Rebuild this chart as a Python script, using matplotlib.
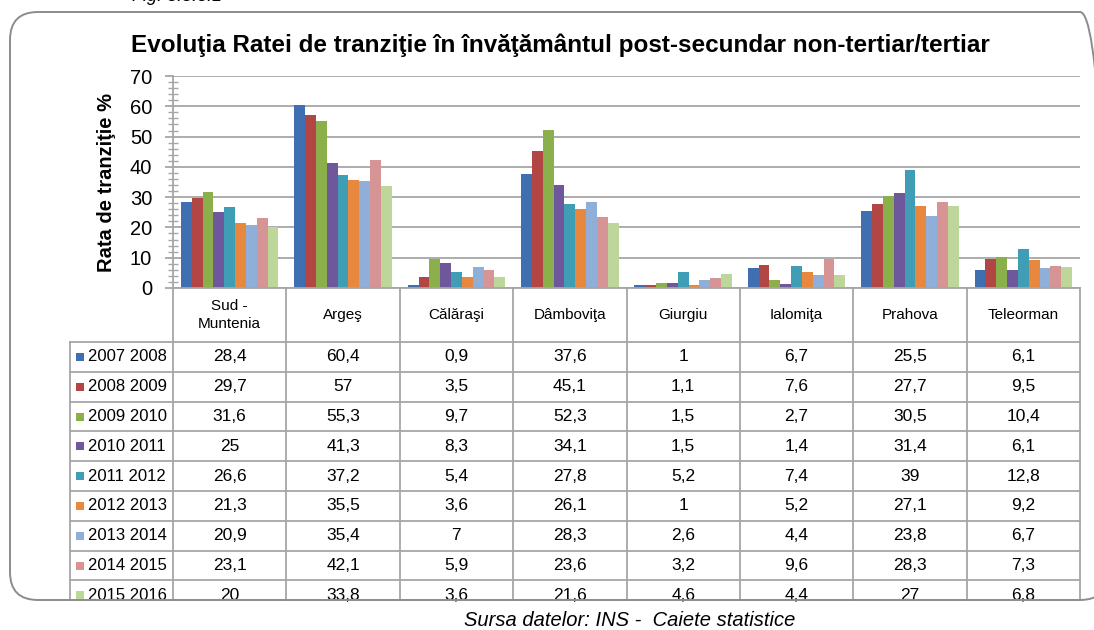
import matplotlib.pyplot as plt
from matplotlib.patches import FancyBboxPatch, Rectangle
from matplotlib.lines import Line2D
from matplotlib.ticker import MultipleLocator

# data
categories = ['Sud -\nMuntenia', 'Argeş', 'Călăraşi', 'Dâmboviţa',
              'Giurgiu', 'Ialomiţa', 'Prahova', 'Teleorman']
years = ['2007 2008', '2008 2009', '2009 2010', '2010 2011', '2011 2012',
         '2012 2013', '2013 2014', '2014 2015', '2015 2016']
values = [
    [28.4, 60.4, 0.9, 37.6, 1.0, 6.7, 25.5, 6.1],
    [29.7, 57.0, 3.5, 45.1, 1.1, 7.6, 27.7, 9.5],
    [31.6, 55.3, 9.7, 52.3, 1.5, 2.7, 30.5, 10.4],
    [25.0, 41.3, 8.3, 34.1, 1.5, 1.4, 31.4, 6.1],
    [26.6, 37.2, 5.4, 27.8, 5.2, 7.4, 39.0, 12.8],
    [21.3, 35.5, 3.6, 26.1, 1.0, 5.2, 27.1, 9.2],
    [20.9, 35.4, 7.0, 28.3, 2.6, 4.4, 23.8, 6.7],
    [23.1, 42.1, 5.9, 23.6, 3.2, 9.6, 28.3, 7.3],
    [20.0, 33.8, 3.6, 21.6, 4.6, 4.4, 27.0, 6.8],
]
colors = ['#3F6FB0', '#B24644', '#8BAF4B', '#6F579B', '#3F9DB6',
          '#E8883E', '#8FAED8', '#D69594', '#BDD79B']

W, H = 1094, 630
fig = plt.figure(figsize=(W / 100, H / 100), dpi=100)

def fx(x):
    return x / W

def fy(y):
    return 1 - y / H

sans = ['Liberation Sans', 'DejaVu Sans']
grid_c = '#A6A6A6'

# outer rounded frame (inches, so the corners stay round)
frame = FancyBboxPatch((0.10, (H - 600) / 100), 10.98, 5.88,
                       boxstyle='round,pad=0,rounding_size=0.28',
                       transform=fig.dpi_scale_trans, fill=False,
                       edgecolor='#8C8C8C', linewidth=1.4, zorder=10)
fig.patches.append(frame)

fig.text(fx(132), fy(5), 'Fig. 3.5.3.1', fontsize=13, style='italic',
         family=sans, ha='left', va='bottom')

fig.text(fx(560), fy(45), 'Evoluţia Ratei de tranziţie în învăţământul post-secundar non-tertiar/tertiar',
         fontsize=17.5, fontweight='bold', family=sans, ha='center', va='center')

# bar chart
left, right, top, bottom = 173, 1080, 76, 288
ax = fig.add_axes([fx(left), fy(bottom), fx(right) - fx(left), fy(top) - fy(bottom)])
n = len(years)
group = 0.86
bw = group / n
for i in range(n):
    xs = [c - group / 2 + bw * (i + 0.5) for c in range(len(categories))]
    ax.bar(xs, values[i], width=bw, color=colors[i], zorder=3)

ax.set_xlim(-0.5, len(categories) - 0.5)
ax.set_ylim(0, 70)
ax.yaxis.set_major_locator(MultipleLocator(10))
ax.yaxis.set_minor_locator(MultipleLocator(2))
ax.grid(axis='y', color=grid_c, linewidth=1.3, zorder=0)
ax.set_xticks([])
for s in ['top', 'right', 'bottom']:
    ax.spines[s].set_visible(False)
ax.spines['left'].set_color(grid_c)
ax.spines['left'].set_linewidth(1.3)
ax.tick_params(axis='y', which='major', length=6, width=1.3, color=grid_c,
               direction='out', labelsize=14.5, pad=9)
ax.tick_params(axis='y', which='minor', length=7, width=1, color=grid_c,
               direction='inout')
for lbl in ax.get_yticklabels():
    lbl.set_family(sans)
ax.set_facecolor('none')

fig.text(fx(106), fy(182), 'Rata de tranziţie %', rotation=90, fontsize=14.5,
         fontweight='bold', family=sans, ha='center', va='center')

# data table
col_w = (right - left) / len(categories)
row_top = 342
row_h = 29.8
clip_y = 600
lw = 1.3

def hline(x0, x1, y):
    fig.add_artist(Line2D([fx(x0), fx(x1)], [fy(y), fy(y)], color=grid_c, lw=lw))

def vline(x, y0, y1):
    fig.add_artist(Line2D([fx(x), fx(x)], [fy(y0), fy(y1)], color=grid_c, lw=lw))

hline(left, right, bottom)
for r in range(n + 1):
    y = row_top + r * row_h
    if y < clip_y:
        hline(70, right, y)
vline(70, row_top, clip_y)
for c in range(len(categories) + 1):
    vline(left + c * col_w, bottom, clip_y)

for c, name in enumerate(categories):
    fig.text(fx(left + (c + 0.5) * col_w), fy((bottom + row_top) / 2), name,
             fontsize=11, family=sans, ha='center', va='center',
             linespacing=1.35)

for r in range(n):
    yc = row_top + (r + 0.5) * row_h
    fig.patches.append(Rectangle((fx(76), fy(yc + 4)), fx(8), fy(0) - fy(8),
                                 transform=fig.transFigure,
                                 facecolor=colors[r], edgecolor='none'))
    fig.text(fx(88), fy(yc), years[r], fontsize=12, family=sans,
             ha='left', va='center')
    for c in range(len(categories)):
        v = values[r][c]
        s = ('%g' % v).replace('.', ',')
        fig.text(fx(left + (c + 0.5) * col_w), fy(yc), s, fontsize=12.5,
                 family=sans, ha='center', va='center')

fig.text(fx(630), fy(620), 'Sursa datelor: INS -  Caiete statistice',
         fontsize=14.5, style='italic', family=sans, ha='center', va='center')

fig.savefig('out.png', dpi=100, facecolor='white')
